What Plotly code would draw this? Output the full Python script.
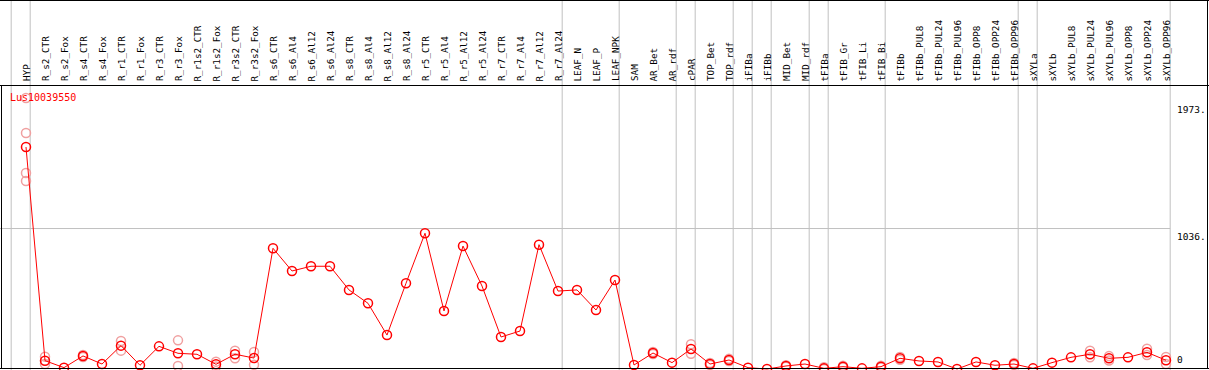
import plotly.graph_objects as go

W, H = 1209, 370

categories = ["HYP", "R_s2_CTR", "R_s2_Fox", "R_s4_CTR", "R_s4_Fox", "R_r1_CTR", "R_r1_Fox",
              "R_r3_CTR", "R_r3_Fox", "R_r1s2_CTR", "R_r1s2_Fox", "R_r3s2_CTR", "R_r3s2_Fox",
              "R_s6_CTR", "R_s6_Al4", "R_s6_Al12", "R_s6_Al24", "R_s8_CTR", "R_s8_Al4",
              "R_s8_Al12", "R_s8_Al24", "R_r5_CTR", "R_r5_Al4", "R_r5_Al12", "R_r5_Al24",
              "R_r7_CTR", "R_r7_Al4", "R_r7_Al12", "R_r7_Al24", "LEAF_N", "LEAF_P", "LEAF_NPK",
              "SAM", "AR_Bet", "AR_rdf", "cPAR", "TOP_Bet", "TOP_rdf", "iFIBa", "iFIBb",
              "MID_Bet", "MID_rdf", "tFIBa", "tFIB_Gr", "tFIB_Li", "tFIB_Bi", "tFIBb",
              "tFIBb_PUL8", "tFIBb_PUL24", "tFIBb_PUL96", "tFIBb_OPP8", "tFIBb_OPP24",
              "tFIBb_OPP96", "sXYLa", "sXYLb", "sXYLb_PUL8", "sXYLb_PUL24", "sXYLb_PUL96",
              "sXYLb_OPP8", "sXYLb_OPP24", "sXYLb_OPP96"]

mean_values = [1621, 87, 37, 121, 63, 195, 54, 190, 140, 133, 61, 133, 106,
               894, 731, 765, 765, 595, 499, 271, 643, 1002, 444, 910, 623,
               257, 300, 920, 587, 595, 451, 666,
               56, 142, 73, 171, 63, 92, 37, 27, 49, 63, 32, 44, 32, 44, 104,
               85, 78, 27, 78, 54, 63, 32, 73, 111, 133, 104, 111, 147, 90]

# replicate measurements (faded circles)
replicates = {
    "HYP": [1973, 1722, 1435, 1377],
    "R_s2_CTR": [116, 63],
    "R_s4_CTR": [128, 114],
    "R_r1_CTR": [228, 159],
    "R_r3_Fox": [233, 49],
    "R_r1s2_Fox": [80, 45],
    "R_r3s2_CTR": [159, 104],
    "R_r3s2_Fox": [149, 58],
    "AR_Bet": [150, 135],
    "cPAR": [205, 137],
    "TOP_Bet": [70, 56],
    "TOP_rdf": [100, 84],
    "MID_Bet": [55, 43],
    "tFIBa": [40, 27],
    "tFIB_Gr": [50, 38],
    "tFIB_Bi": [50, 38],
    "tFIBb": [114, 94],
    "tFIBb_OPP96": [70, 56],
    "sXYLb_PUL24": [159, 111],
    "sXYLb_PUL96": [120, 88],
    "sXYLb_OPP24": [173, 128],
    "sXYLb_OPP96": [113, 63],
}

# group separators drawn after these categories (None = before first)
separators_after = [None, "HYP", "R_r7_Al24", "LEAF_NPK", "AR_rdf", "cPAR", "TOP_rdf",
                    "iFIBa", "iFIBb", "MID_rdf", "tFIBa", "tFIB_Bi", "tFIBb_OPP96",
                    "sXYLa", "sXYLb_OPP96"]

y_tick_values = [1973, 1036, 0]
y_tick_labels = ["1973.", "1036.", "0"]
gene_name = "Lus10039550"

RED = "#ff0000"
FADED = "#f0a0a0"
GRID = "#c0c0c0"
MONO = "DejaVu Sans Mono, Liberation Mono, monospace"

# axis geometry (pixel mapping)
x_first_px, x_step_px = 26.0, 19.0
x_range = [-x_first_px / x_step_px, (W - x_first_px) / x_step_px]
y_zero_px, y_scale = 372.8, 0.13927  # pixel of value 0, pixels per unit
y_range = [(y_zero_px - H) / y_scale, y_zero_px / y_scale]


def value_to_paper(v):
    return 1 - (y_zero_px - v * y_scale) / H


fig = go.Figure()

rx, ry = [], []
for c, vals in replicates.items():
    for v in vals:
        rx.append(c)
        ry.append(v)
fig.add_trace(go.Scatter(x=rx, y=ry, mode="markers",
                         marker=dict(symbol="circle-open", size=9, color=FADED,
                                     line=dict(width=1.5, color=FADED)),
                         hoverinfo="skip", cliponaxis=False))

fig.add_trace(go.Scatter(x=categories, y=mean_values, mode="lines+markers",
                         line=dict(color=RED, width=1),
                         marker=dict(symbol="circle-open", size=9, color=RED,
                                     line=dict(width=1.5, color=RED)),
                         cliponaxis=False))

shapes = []
idx = {c: i for i, c in enumerate(categories)}
for s in separators_after:
    pos = (-1 if s is None else idx[s]) + 0.22
    shapes.append(dict(type="line", xref="x", yref="paper", x0=pos, x1=pos, y0=0, y1=1,
                       line=dict(color=GRID, width=1), layer="below"))

# gridline at middle tick
last_sep = idx[separators_after[-1]] + 0.22
shapes.append(dict(type="line", xref="paper", yref="y", x0=0, x1=(x_first_px + x_step_px * last_sep) / W,
                   y0=y_tick_values[1], y1=y_tick_values[1], line=dict(color=GRID, width=1), layer="below"))

header_y = 1 - 85.5 / H
# frame lines
shapes += [
    dict(type="line", xref="paper", yref="paper", x0=0, x1=1, y0=1 - 0.5 / H, y1=1 - 0.5 / H,
         line=dict(color="black", width=1)),
    dict(type="line", xref="paper", yref="paper", x0=0, x1=1, y0=header_y, y1=header_y,
         line=dict(color="black", width=1)),
    dict(type="line", xref="paper", yref="paper", x0=0, x1=1, y0=1.5 / H, y1=1.5 / H,
         line=dict(color="black", width=1)),
    dict(type="line", xref="paper", yref="paper", x0=1.5 / W, x1=1.5 / W, y0=1.5 / H, y1=header_y,
         line=dict(color="black", width=1)),
    dict(type="line", xref="paper", yref="paper", x0=1 - 1.5 / W, x1=1 - 1.5 / W, y0=1.5 / H, y1=1,
         line=dict(color="black", width=1)),
]

annotations = []
for c in categories:
    annotations.append(dict(x=c, xref="x", y=1 - 82.5 / H, yref="paper", text=c, textangle=-90,
                            showarrow=False, xanchor="center", yanchor="bottom",
                            font=dict(family=MONO, size=9.3, color="black"), borderpad=0))

label_x = len(categories) - 1 + 0.55
shifts = [(-5, "top"), (-1, "top"), (7, "bottom")]
for v, t, (ys, anc) in zip(y_tick_values, y_tick_labels, shifts):
    annotations.append(dict(x=label_x, xref="x", y=value_to_paper(v), yref="paper", text=t,
                            showarrow=False, xanchor="left", yanchor=anc, yshift=ys, borderpad=0,
                            font=dict(family=MONO, size=9.5, color="black")))

annotations.append(dict(x=9 / W, xref="paper", y=1 - 97 / H, yref="paper", text=gene_name,
                        showarrow=False, xanchor="left", yanchor="middle", borderpad=0,
                        font=dict(family=MONO, size=10, color=RED)))

fig.update_layout(
    width=W, height=H, margin=dict(l=0, r=0, t=0, b=0),
    paper_bgcolor="white", plot_bgcolor="white", showlegend=False,
    xaxis=dict(range=x_range, showgrid=False, zeroline=False, showticklabels=False,
               showline=False, ticks="", fixedrange=True,
               type="category", categoryorder="array", categoryarray=categories),
    yaxis=dict(range=y_range, showgrid=False, zeroline=False, showticklabels=False,
               showline=False, ticks="", fixedrange=True),
    shapes=shapes, annotations=annotations,
)

fig.write_html("out.html", config={"displayModeBar": False},
               post_script="document.body.style.margin='0';document.body.style.padding='0';")
